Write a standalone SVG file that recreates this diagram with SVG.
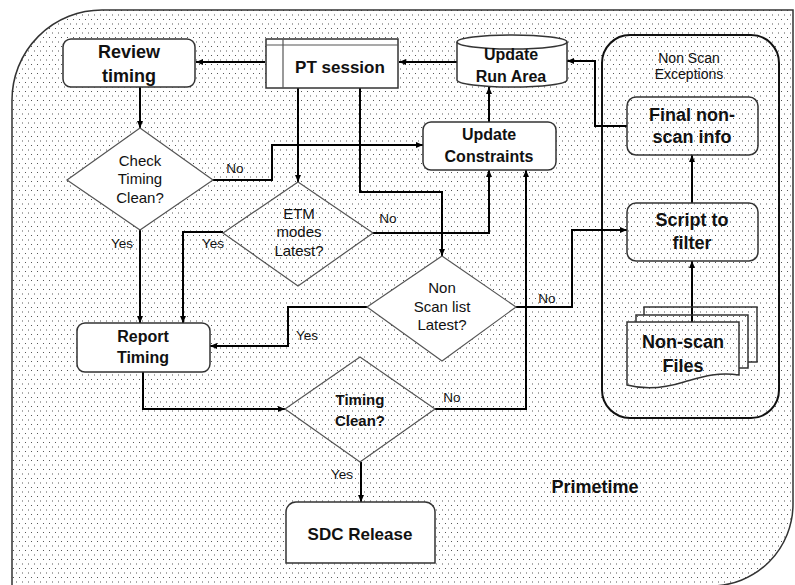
<svg xmlns="http://www.w3.org/2000/svg" width="795" height="585" viewBox="0 0 795 585">
<defs>
<pattern id="dots" width="6" height="9" patternUnits="userSpaceOnUse">
<rect x="1" y="1" width="1" height="1" fill="#555"/>
<rect x="4" y="5.5" width="1" height="1" fill="#555"/>
</pattern>
<marker id="arr" markerUnits="userSpaceOnUse" markerWidth="8" markerHeight="8" refX="7" refY="3" orient="auto">
<path d="M0,0 L7,3 L0,6 z" fill="#000"/>
</marker>
<style>
.box{fill:#fff;stroke:#333;stroke-width:1.5}
.clear{fill:none;stroke:#333;stroke-width:1.5}
.dia{fill:#fff;stroke:#555;stroke-width:1.2}
.diac{fill:none;stroke:#555;stroke-width:1.2}
.b16{font-family:"Liberation Sans",Arial,sans-serif;font-weight:bold;font-size:16px;text-anchor:middle;fill:#111}
.b17{font-family:"Liberation Sans",Arial,sans-serif;font-weight:bold;font-size:17px;text-anchor:middle;fill:#111}
.b18{font-family:"Liberation Sans",Arial,sans-serif;font-weight:bold;font-size:18px;text-anchor:middle;fill:#111}
.r15{font-family:"Liberation Sans",Arial,sans-serif;font-size:15px;text-anchor:middle;fill:#111}
.b15{font-family:"Liberation Sans",Arial,sans-serif;font-weight:bold;font-size:15px;text-anchor:middle;fill:#111}
.r14{font-family:"Liberation Sans",Arial,sans-serif;font-size:14px;text-anchor:middle;fill:#111}
.lbl{font-family:"Liberation Sans",Arial,sans-serif;font-size:13.5px;text-anchor:middle;fill:#111}
.con{fill:none;stroke:#000;stroke-width:2;marker-end:url(#arr)}
</style>
</defs>
<rect width="795" height="585" fill="#fff"/>
<g id="container">
<path d="M12,590 V100 A90,90 0 0 1 102,10 H793 V504 A82,82 0 0 1 711,586 H12" fill="url(#dots)" stroke="#333" stroke-width="1.5"/>
<text class="b18" x="595" y="493">Primetime</text>
</g>
<g id="nonscan-panel">
<rect x="602" y="35" width="177" height="383" rx="28" fill="none" stroke="#111" stroke-width="2"/>
<text class="r14" x="689" y="63">Non Scan</text>
<text class="r14" x="689" y="79">Exceptions</text>
</g>
<g id="connectors">
<path class="con" d="M265,62 H196"/>
<path class="con" d="M457,62 H399"/>
<path class="con" d="M489,122 V87"/>
<path class="con" d="M140,87 V128"/>
<path class="con" d="M213,180 H272 V145 H423"/>
<path class="con" d="M298,88 V182"/>
<path class="con" d="M360,88 V192 H442 V256"/>
<path class="con" d="M373,233 H489 V170"/>
<path class="con" d="M223,232 H183 V323"/>
<path class="con" d="M140,230 V323"/>
<path class="con" d="M367,307 H288 V346 H210"/>
<path class="con" d="M516,307 H572 V230 H627"/>
<path class="con" d="M143,372 V409 H285"/>
<path class="con" d="M361,462 V502"/>
<path class="con" d="M435,409 H526 V170"/>
<path class="con" d="M692,322 V261"/>
<path class="con" d="M692,203 V155"/>
<path class="con" d="M627,126 H595 V61 H567"/>
<text class="lbl" x="235" y="173">No</text>
<text class="lbl" x="122" y="248">Yes</text>
<text class="lbl" x="213" y="248">Yes</text>
<text class="lbl" x="388" y="223">No</text>
<text class="lbl" x="307" y="340">Yes</text>
<text class="lbl" x="547" y="303">No</text>
<text class="lbl" x="452" y="402">No</text>
<text class="lbl" x="342" y="479">Yes</text>
</g>
<g id="review-timing">
<rect class="box" x="63" y="39" width="132" height="48" rx="8"/>
<text class="b18" x="129" y="58">Review</text>
<text class="b18" x="129" y="82">timing</text>
</g>
<g id="pt-session">
<rect class="box" x="266" y="39" width="132" height="49"/>
<line x1="266" y1="45" x2="398" y2="45" stroke="#555" stroke-width="1.2"/>
<line x1="283" y1="39" x2="283" y2="88" stroke="#555" stroke-width="1.2"/>
<text class="b17" x="340" y="73">PT session</text>
</g>
<g id="update-run-area">
<path class="box" d="M457,42 A55,7 0 0 1 567,42 V80 A55,7 0 0 1 457,80 Z"/>
<path d="M457,42 A55,7 0 0 0 567,42" fill="none" stroke="#333" stroke-width="1.5"/>
<text class="b16" x="511" y="60">Update</text>
<text class="b16" x="511" y="82">Run Area</text>
</g>
<g id="update-constraints">
<rect class="box" x="423" y="122" width="133" height="48" rx="8"/>
<text class="b16" x="489" y="140">Update</text>
<text class="b16" x="489" y="162">Constraints</text>
</g>
<g id="check-timing-clean">
<polygon class="dia" points="140,128 213,180 140,230 67,180"/>
<text class="r15" x="140" y="166">Check</text>
<text class="r15" x="140" y="184">Timing</text>
<text class="r15" x="140" y="203">Clean?</text>
</g>
<g id="etm-modes-latest">
<polygon class="diac" points="298,182 373,233 298,286 223,233"/>
<text class="r15" x="299" y="219">ETM</text>
<text class="r15" x="299" y="237">modes</text>
<text class="r15" x="299" y="256">Latest?</text>
</g>
<g id="non-scan-list-latest">
<polygon class="dia" points="442,256 516,307 442,361 367,307"/>
<text class="r15" x="442" y="293">Non</text>
<text class="r15" x="442" y="312">Scan list</text>
<text class="r15" x="442" y="330">Latest?</text>
</g>
<g id="report-timing">
<rect class="box" x="77" y="323" width="133" height="49" rx="8"/>
<text class="b16" x="143" y="342">Report</text>
<text class="b16" x="143" y="363">Timing</text>
</g>
<g id="timing-clean">
<polygon class="diac" points="360,357 435,409 360,462 285,409"/>
<text class="b15" x="360" y="405">Timing</text>
<text class="b15" x="360" y="426">Clean?</text>
</g>
<g id="sdc-release">
<path class="box" d="M286,563 V512 A10,10 0 0 1 296,502 H425 A10,10 0 0 1 435,512 V563 Z"/>
<text class="b17" x="360" y="540">SDC Release</text>
</g>
<g id="final-non-scan-info">
<rect class="clear" x="627" y="97" width="131" height="58" rx="9"/>
<text class="b18" x="692" y="121">Final non-</text>
<text class="b18" x="692" y="143">scan info</text>
</g>
<g id="script-to-filter">
<rect class="clear" x="627" y="203" width="131" height="58" rx="9"/>
<text class="b18" x="692" y="226">Script to</text>
<text class="b18" x="692" y="249">filter</text>
</g>
<g id="non-scan-files">
<path class="clear" d="M644,315 V307 H757 V362 H748"/>
<path class="clear" d="M636,322 V315 H748 V368 H739"/>
<path class="clear" d="M627,322 H739 V375 C716,372 702,377 684,382 C665,388 646,390 627,385 Z"/>
<text class="b18" x="683" y="348">Non-scan</text>
<text class="b18" x="683" y="372">Files</text>
</g>
</svg>
